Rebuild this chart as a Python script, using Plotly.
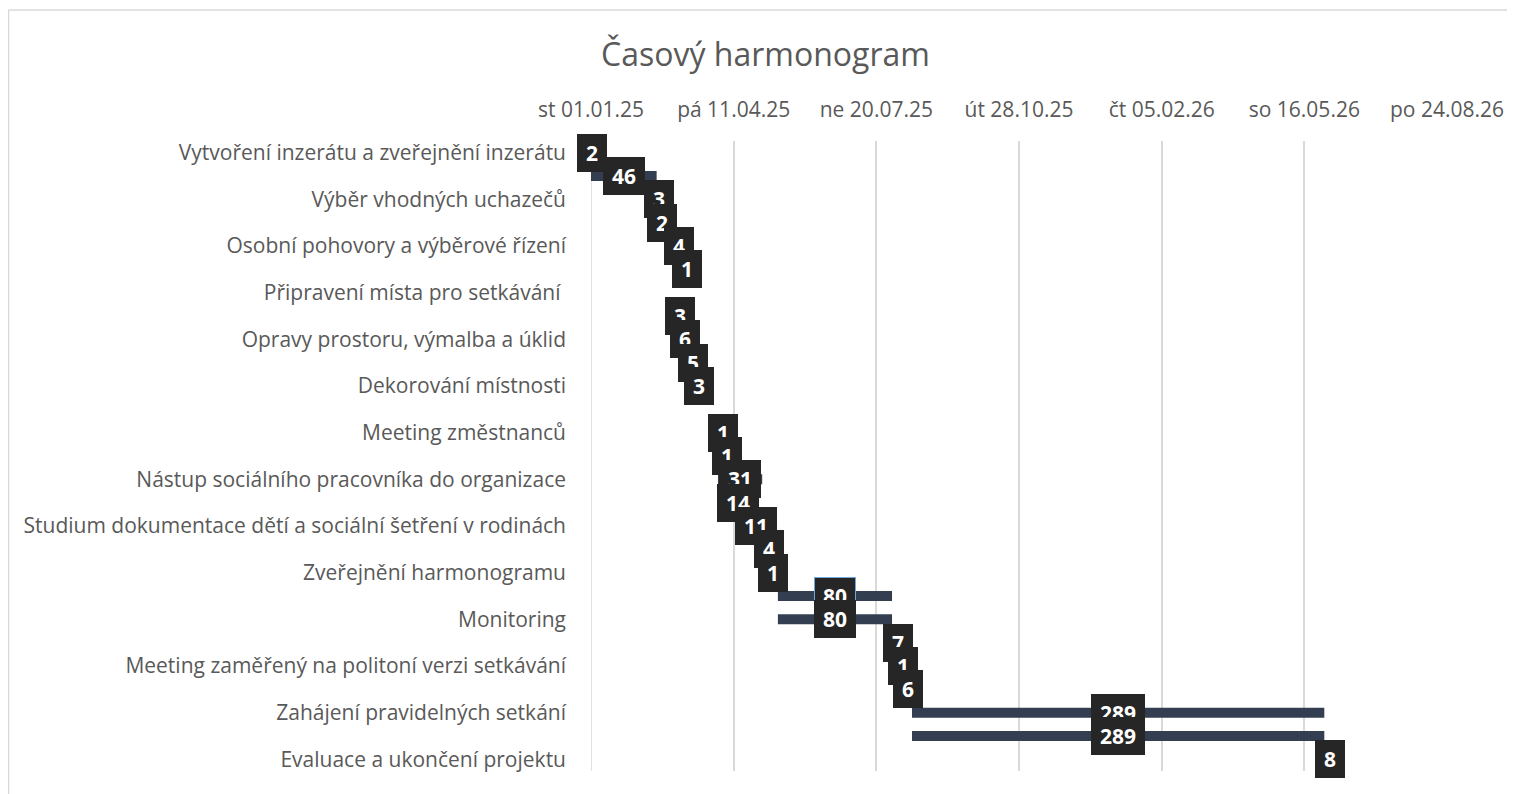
import pandas as pd
import plotly.graph_objects as go

# ---------------- data ----------------
tick_names = [
    "Vytvoření inzerátu a zveřejnění inzerátu",
    "Výběr vhodných uchazečů",
    "Osobní pohovory a výběrové řízení",
    "Připravení místa pro setkávání ",
    "Opravy prostoru, výmalba a úklid",
    "Dekorování místnosti",
    "Meeting změstnanců",
    "Nástup sociálního pracovníka do organizace",
    "Studium dokumentace dětí a sociální šetření v rodinách",
    "Zveřejnění harmonogramu",
    "Monitoring",
    "Meeting zaměřený na politoní verzi setkávání",
    "Zahájení pravidelných setkání",
    "Evaluace a ukončení projektu",
]
# one entry per chart row (27 rows; only every other row label is shown)
start_dates = [
    "2025-01-01", "2025-01-01", "2025-02-16", "2025-02-19", "2025-03-02",
    "2025-03-09", None, "2025-03-03", "2025-03-05", "2025-03-11",
    "2025-03-16", None, "2025-04-03", "2025-04-06", "2025-03-31",
    "2025-04-07", "2025-04-21", "2025-05-04", "2025-05-08", "2025-05-12",
    "2025-05-12", "2025-08-01", "2025-08-07", "2025-08-08", "2025-08-14",
    "2025-08-14", "2026-05-30",
]
durations = [2, 46, 3, 2, 4, 1, None, 3, 6, 5, 3, None, 1, 1, 31, 14, 11, 4, 1,
             80, 80, 7, 1, 6, 289, 289, 8]

axis_start = "2025-01-01"
axis_end = "2026-08-24"
tick_step_days = 100
tick_labels = ["st 01.01.25", "pá 11.04.25", "ne 20.07.25", "út 28.10.25",
               "čt 05.02.26", "so 16.05.26", "po 24.08.26"]

# ---------------- derived ----------------
t0 = pd.Timestamp(axis_start)
rows = list(range(len(durations)))
bar_rows, bar_base, bar_len = [], [], []
for r, s, d in zip(rows, start_dates, durations):
    if s is None or d is None:
        continue
    bar_rows.append(r)
    bar_base.append((pd.Timestamp(s) - t0).days)
    bar_len.append(d)

span = (pd.Timestamp(axis_end) - t0).days
tick_vals = list(range(0, span + 1, tick_step_days))
name_rows = [2 * i for i in range(len(tick_names))]

# pixel layout (figure coordinates; page adds an 8px body margin)
W, H = 1507, 786
L, R, T, B = 583, 1439, 133, 763

FONT = "Open Sans"
GREY = "#595959"

fig = go.Figure()
fig.add_trace(go.Bar(
    y=bar_rows, x=bar_len, base=bar_base, orientation="h",
    marker=dict(color="#333F50", line=dict(width=0)),
    width=0.43, hoverinfo="skip", showlegend=False,
))

annotations = []
for r, b, d in zip(bar_rows, bar_base, bar_len):
    txt = str(d)
    annotations.append(dict(
        x=b + d / 2, y=r, xref="x", yref="y", text="<b>%s</b>" % txt,
        showarrow=False, xanchor="center", yanchor="middle",
        font=dict(family=FONT, size=21, color="white"),
        bgcolor="#262626", borderpad=6,
        bordercolor="#6FA8DC" if r == 19 else "#262626", borderwidth=1,
        width=12 * len(txt) + 4, height=24, align="center", valign="middle",
    ))

pw, ph = R - L, B - T
def px2x(px):
    return (px - L) / pw
def py2y(py):
    return (B - py) / ph

shapes = [
    dict(type="line", xref="paper", yref="paper",
         x0=px2x(0.5), x1=px2x(1530), y0=py2y(2), y1=py2y(2),
         line=dict(color="#D9D9D9", width=1.5)),
    dict(type="line", xref="paper", yref="paper",
         x0=px2x(0.5), x1=px2x(0.5), y0=py2y(2), y1=py2y(810),
         line=dict(color="#D9D9D9", width=1.5)),
    dict(type="line", xref="x", yref="paper", x0=0, x1=0, y0=0, y1=1,
         line=dict(color="#D9D9D9", width=1.5), layer="below"),
]

fig.update_layout(
    width=W, height=H,
    margin=dict(l=L, r=W - R, t=T, b=H - B, pad=0),
    paper_bgcolor="white", plot_bgcolor="white",
    barmode="overlay",
    title=dict(text="Časový harmonogram", x=757.5 / W, xref="container",
               xanchor="center", y=1 - 47 / H, yref="container",
               yanchor="middle",
               font=dict(family=FONT, size=32, color=GREY)),
    xaxis=dict(range=[0, span], side="top", tickmode="array",
               tickvals=tick_vals, ticktext=tick_labels,
               showgrid=True, gridcolor="#D9D9D9", gridwidth=1.5,
               zeroline=False, showline=False, ticks="",
               ticklabelstandoff=19,
               tickfont=dict(family=FONT, size=21, color=GREY)),
    yaxis=dict(range=[len(rows) - 0.5, -0.5], tickmode="array",
               tickvals=name_rows, ticktext=tick_names,
               showgrid=False, zeroline=False, showline=False, ticks="",
               ticklabelstandoff=24,
               tickfont=dict(family=FONT, size=21, color=GREY)),
    annotations=annotations,
    shapes=shapes,
    font=dict(family=FONT),
)

fig.write_html("out.html")
